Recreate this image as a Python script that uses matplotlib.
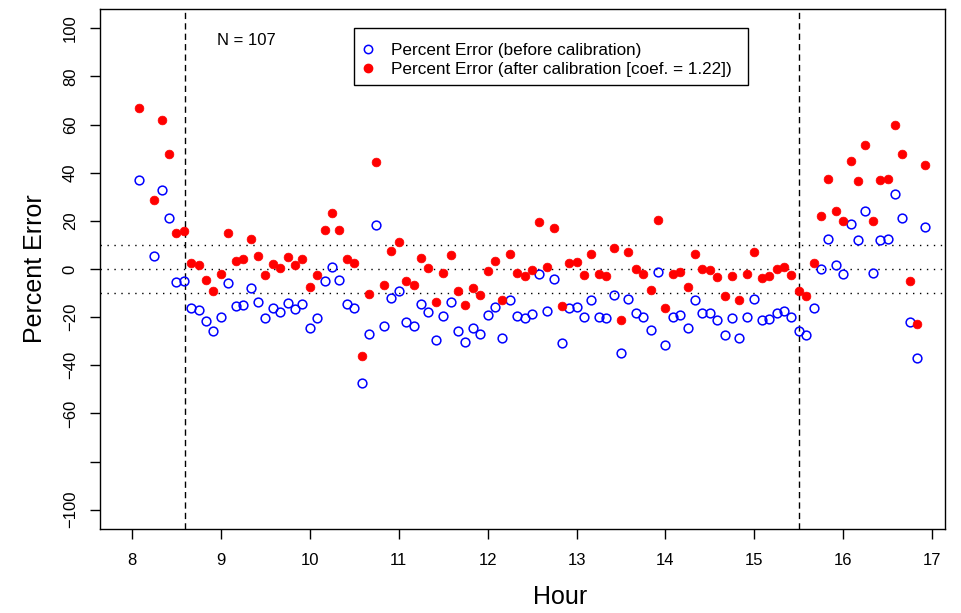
import matplotlib
matplotlib.use("Agg")
import matplotlib.pyplot as plt
import numpy as np
from matplotlib.lines import Line2D
from matplotlib.patches import Rectangle

plt.rcParams["font.family"] = ["Liberation Sans", "DejaVu Sans"]

# sample times, minutes after 08:00 (08:10 missing)
minutes = [5, 15, 20, 25, 30, 35, 40, 45, 50, 55, 60, 65, 70, 75, 80,
           85, 90, 95, 100, 105, 110, 115, 120, 125, 130, 135, 140, 145, 150, 155,
           160, 165, 170, 175, 180, 185, 190, 195, 200, 205, 210, 215, 220, 225, 230,
           235, 240, 245, 250, 255, 260, 265, 270, 275, 280, 285, 290, 295, 300, 305,
           310, 315, 320, 325, 330, 335, 340, 345, 350, 355, 360, 365, 370, 375, 380,
           385, 390, 395, 400, 405, 410, 415, 420, 425, 430, 435, 440, 445, 450, 455,
           460, 465, 470, 475, 480, 485, 490, 495, 500, 505, 510, 515, 520, 525, 530, 535]

err_before = [37.0, 5.5, 32.9, 21.1, -5.4, -5.0, -16.4, -17.1, -21.8, -25.7, -20.0, -5.7, -15.5, -14.9, -8.0,
              -13.6, -20.3, -16.4, -17.9, -14.2, -16.8, -14.7, -24.3, -20.3, -5.0, 1.0, -4.7, -14.6, -16.3, -47.4,
              -26.8, 18.3, -23.6, -11.9, -9.0, -22.2, -23.6, -14.4, -17.9, -29.4, -19.6, -13.5, -25.7, -30.4, -24.7,
              -26.8, -19.0, -15.7, -28.6, -13.0, -19.6, -20.4, -18.5, -2.2, -17.4, -4.2, -30.7, -16.1, -15.6, -20.1,
              -12.8, -19.9, -20.4, -11.0, -35.0, -12.4, -18.3, -19.9, -25.4, -1.4, -31.7, -19.9, -19.2, -24.4, -13.0,
              -18.2, -18.3, -21.0, -27.4, -20.4, -28.6, -20.0, -12.4, -21.3, -20.7, -18.3, -17.6, -20.1, -25.8, -27.5,
              -16.3, -0.1, 12.4, 1.7, -1.9, 18.6, 12.1, 24.2, -1.8, 12.2, 12.4, 31.1, 21.1, -22.2, -36.8, 17.4]

err_after = [67.0, 28.7, 62.1, 47.9, 15.1, 15.7, 2.4, 1.5, -4.7, -9.2, -2.2, 14.9, 3.2, 4.0, 12.4,
             5.4, -2.5, 2.0, 0.3, 4.9, 1.5, 4.0, -7.5, -2.6, 16.1, 23.2, 16.1, 4.0, 2.4, -36.0,
             -10.5, 44.5, -6.8, 7.5, 11.3, -5.1, -6.7, 4.5, 0.3, -13.9, -1.8, 5.7, -9.2, -15.1, -7.9,
             -11.0, -0.8, 3.3, -13.0, 6.3, -1.8, -3.0, -0.4, 19.6, 0.8, 17.1, -15.4, 2.4, 2.9, -2.5,
             6.3, -2.2, -2.9, 8.8, -21.0, 7.1, 0.0, -2.2, -8.8, 20.4, -16.3, -2.2, -1.4, -7.5, 6.1,
             0.0, -0.4, -3.3, -11.3, -2.9, -13.0, -2.2, 7.1, -3.9, -3.0, 0.0, 0.8, -2.5, -9.3, -11.4,
             2.4, 22.1, 37.4, 24.2, 19.9, 45.0, 36.7, 51.7, 20.0, 37.0, 37.4, 60.0, 47.9, -5.0, -22.9, 43.3]

hours = 8 + np.array(minutes) / 60.0

y_ticks = [-100, -80, -60, -40, -20, 0, 20, 40, 60, 80, 100]
y_tick_labels = ["\u2212100", "", "\u221260", "\u221240", "\u221220", "0", "20", "40", "60", "80", "100"]
x_ticks = [8, 9, 10, 11, 12, 13, 14, 15, 16, 17]
band_levels = [-10, 0, 10]
window_edges = [8.6, 15.5]

W, H = 961, 613
fig = plt.figure(figsize=(W / 100, H / 100), dpi=100)
ax = fig.add_axes([100 / W, 1 - 529 / H, 845 / W, 520 / H])

ax.plot(hours, err_before, linestyle="none", marker="o", markersize=6.3,
        markerfacecolor="none", markeredgecolor="#0000ff", markeredgewidth=1.1, zorder=3)
ax.plot(hours, err_after, linestyle="none", marker="o", markersize=6.3,
        markerfacecolor="#ff0000", markeredgecolor="#ff0000", markeredgewidth=0.5, zorder=3)

for lev in band_levels:
    ax.axhline(lev, color="black", lw=1.0, linestyle=(0, (1, 4)), zorder=1)
for edge in window_edges:
    ax.axvline(edge, color="black", lw=1.0, linestyle=(0, (4.5, 3)), zorder=1)

ax.set_xlim(7.64, 17.145)
ax.set_ylim(-108, 108)
ax.set_xticks(x_ticks)
ax.set_xticklabels([str(t) for t in x_ticks])
ax.set_yticks(y_ticks)
ax.set_yticklabels(y_tick_labels, rotation=90, va="center")
ax.tick_params(axis="both", direction="out", length=7, width=1, labelsize=12, color="black")
ax.tick_params(axis="x", pad=10)
ax.tick_params(axis="y", pad=9)
for s in ax.spines.values():
    s.set_linewidth(1.0)
    s.set_color("black")

ax.set_xlabel("Hour", fontsize=18)
ax.xaxis.set_label_coords((560 - 100) / 845, (529 - 597) / 520)
ax.xaxis.label.set_verticalalignment("center")
ax.set_ylabel("Percent Error", fontsize=18)
ax.yaxis.set_label_coords((35 - 100) / 845, 0.5)
ax.yaxis.label.set_verticalalignment("center")

ax.text(9.29, 95, "N = 107", fontsize=12, ha="center", va="center")

# legend: R-style box, drawn separately so the padding can be uneven
handles = [
    Line2D([], [], linestyle="none", marker="o", markersize=6, markerfacecolor="none",
           markeredgecolor="#0000ff", markeredgewidth=1.1),
    Line2D([], [], linestyle="none", marker="o", markersize=6, markerfacecolor="#ff0000",
           markeredgecolor="#ff0000"),
]
leg = ax.legend(handles,
                ["Percent Error (before calibration)",
                 "Percent Error (after calibration [coef. = 1.22])"],
                loc="upper left", bbox_to_anchor=((350 - 100) / 845, (529 - 34) / 520),
                borderaxespad=0, fontsize=12.3, frameon=False,
                borderpad=0.55, handlelength=1.0, handletextpad=0.85,
                labelspacing=0.19)
fig.add_artist(Rectangle((354 / W, 1 - 85 / H), 394 / W, 57 / H, transform=fig.transFigure,
                         fill=False, edgecolor="black", linewidth=1.0))

fig.savefig("out.png", dpi=100)
